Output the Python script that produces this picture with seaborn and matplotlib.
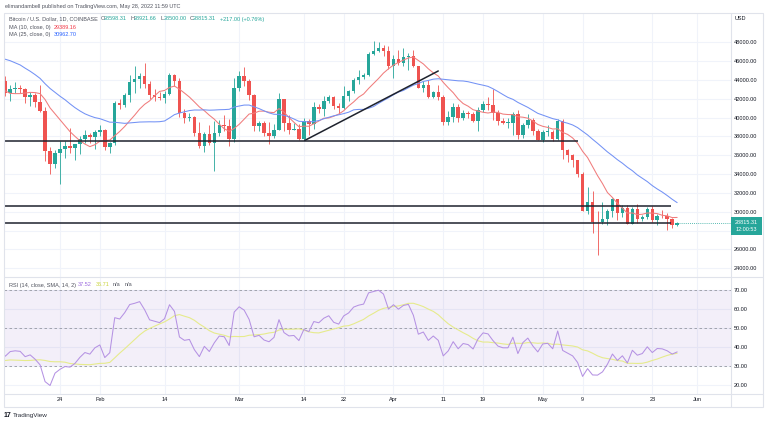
import numpy as np
import pandas as pd
import matplotlib
matplotlib.use("Agg")
import matplotlib.pyplot as plt
import matplotlib.dates as mdates
from matplotlib.patches import Rectangle
from matplotlib.lines import Line2D
import seaborn as sns

sns.set_theme(style="white")
plt.rcParams["font.family"] = ["Liberation Sans", "DejaVu Sans"]

# closes before the visible window, used for the MA / RSI warm-up (2021-11-15 .. 2022-01-12)
hist_start = "2021-11-15"
hist_close = [63590, 60110, 60370, 56940, 58120, 59750, 58730, 56310, 57570, 57180,
              58960, 53750, 54740, 57290, 57830, 56990,
              57230, 56510, 53730, 49250, 49400, 50580, 50620, 50480, 47640, 47170,
              49390, 50110, 46720, 48380, 48870, 47630, 46200, 46850, 46690, 46910,
              48900, 48620, 50820, 50430, 50800, 50700, 50640, 47590, 46470, 47150, 46210,
              47740, 47310, 46450, 45830, 43430, 43080, 41560, 41730, 41870, 41830, 42740, 43920]

# daily candles 2022-01-13 .. 2022-05-28
start = "2022-01-13"
opens = [43920, 42590, 43100, 43180, 43090, 42220, 42380, 41680, 40690, 36470, 35050, 36280, 36680, 36960, 36820,
         37160, 37720, 38170, 37920, 38480, 38740, 36900, 37330, 41570, 41400, 42410, 43850, 44090, 44390, 43550,
         42400, 42230, 42080, 42560, 44580, 43900, 40550, 40000, 40110, 38390, 37040, 38250, 37270, 38340, 39230,
         39120, 37700, 43190, 44420, 43920, 42460, 39140, 39400, 38420, 38060, 38740, 41940, 39440, 38730, 38810,
         37780, 39670, 39280, 41120, 40920, 41760, 42220, 41260, 41000, 42360, 42890, 43960, 44320, 44520, 46820,
         47130, 47430, 47060, 45530, 46280, 45810, 46410, 46580, 45500, 43170, 43440, 42250, 42760, 42160, 39530,
         40080, 41150, 39940, 40550, 40380, 39680, 40800, 41500, 41370, 40480, 39700, 39450, 39450, 40430, 38110,
         39240, 39740, 38600, 37640, 38470, 38530, 37750, 39690, 36550, 36010, 35470, 34060, 30090, 31010, 28940,
         28880, 29240, 30100, 31310, 29830, 30390, 28680, 30290, 29180, 29390, 30240, 29090, 29590, 29520, 29180,
         28598.31]
highs = [44440, 43460, 43800, 43480, 43180, 42700, 42580, 43500, 41100, 36840, 36530, 37550, 37550, 38920, 37240,
         38000, 38720, 38360, 38740, 39270, 38850, 37390, 41750, 41940, 42660, 44500, 45500, 44800, 45850, 43920,
         43000, 42750, 42860, 44770, 44600, 44200, 40970, 40460, 40140, 39500, 38440, 39260, 39700, 39710, 40300,
         39870, 44220, 44970, 45400, 44100, 42520, 39640, 39690, 39560, 39360, 42600, 41970, 40260, 39480, 39300,
         39920, 39860, 41720, 41480, 42300, 42400, 42300, 41540, 43350, 42900, 44210, 45090, 44790, 46950, 48190,
         48100, 47700, 47600, 46700, 47200, 47440, 46880, 47200, 45500, 43900, 43960, 42800, 43430, 42420, 40700,
         41560, 41500, 40870, 40710, 40590, 41100, 41760, 42200, 43100, 40800, 39980, 39940, 40620, 40800, 39460,
         40380, 39920, 38800, 38680, 39170, 38650, 39900, 39850, 36670, 36140, 35500, 34250, 32660, 32180, 30100,
         31000, 30330, 31450, 31320, 30760, 30670, 30550, 30770, 29620, 30470, 30650, 29800, 30190, 29870, 29380,
         28921.66]
lows = [42310, 41730, 42650, 42590, 41540, 41260, 41140, 40570, 35440, 34010, 34600, 32930, 35700, 36240, 35510,
        36150, 37310, 37360, 36630, 38010, 36610, 36250, 37060, 40970, 41140, 41660, 42670, 43150, 43200, 42000,
        41750, 41880, 41580, 42440, 43330, 40080, 39460, 39640, 38000, 36800, 36360, 37070, 34320, 38030, 38570,
        37030, 37460, 42850, 43360, 41840, 38630, 38590, 38100, 37160, 37860, 38660, 38540, 38240, 38660, 37580,
        37580, 38120, 38850, 40520, 40150, 41520, 40930, 40500, 40890, 41750, 42580, 43590, 44100, 44420, 46670,
        46940, 46540, 45200, 44240, 45630, 45520, 45120, 45350, 43130, 42730, 42120, 42130, 41870, 39200, 39250,
        39570, 39550, 39770, 39990, 39540, 38540, 40580, 40830, 39750, 39180, 39300, 38930, 38200, 37700, 37880,
        38900, 38180, 37580, 37390, 38050, 37520, 37670, 35580, 35270, 34780, 33720, 30070, 29750, 27700, 25400,
        28710, 28630, 29480, 29100, 29460, 28670, 28670, 28750, 28960, 29250, 28880, 28630, 29320, 28030, 28250,
        28500.00]
closes = [42590, 43100, 43180, 43090, 42220, 42380, 41680, 40690, 36470, 35050, 36280, 36680, 36960, 36820, 37160,
          37720, 38170, 37920, 38480, 38740, 36900, 37330, 41570, 41400, 42410, 43850, 44090, 44390, 43550, 42400,
          42230, 42080, 42560, 44580, 43900, 40550, 40000, 40110, 38390, 37040, 38250, 37270, 38340, 39230, 39120,
          37700, 43190, 44420, 43920, 42460, 39140, 39400, 38420, 38060, 38740, 41940, 39440, 38730, 38810, 37780,
          39670, 39280, 41120, 40920, 41760, 42220, 41260, 41000, 42360, 42890, 43960, 44320, 44520, 46820, 47130,
          47430, 47060, 45530, 46280, 45810, 46410, 46580, 45500, 43170, 43440, 42250, 42760, 42160, 39530, 40080,
          41150, 39940, 40550, 40380, 39680, 40800, 41500, 41370, 40480, 39700, 39450, 39450, 40430, 38110, 39240,
          39740, 38600, 37640, 38470, 38530, 37750, 39690, 36550, 36010, 35470, 34060, 30090, 31010, 28940, 28880,
          29240, 30100, 31310, 29830, 30390, 28680, 30290, 29180, 29390, 30240, 29090, 29590, 29520, 29180, 28598.31,
          28815.31]

# drawn trend lines: (date, price) pairs
support_lines = [("2022-01-01 00:00", 37560, "2022-05-08 00:00", 37560),
                 ("2022-01-01 00:00", 30600, "2022-05-26 18:00", 30600),
                 ("2022-01-01 00:00", 28770, "2022-05-26 18:00", 28770)]
trend_line = ("2022-03-14 04:00", 37580, "2022-04-10 00:00", 44970)

price_ticks = list(range(24000, 48001, 2000))
rsi_ticks = [20, 30, 40, 50, 60, 70]
date_ticks = ["2022-01-24", "2022-02-01", "2022-02-14", "2022-03-01", "2022-03-14", "2022-03-22",
              "2022-04-01", "2022-04-11", "2022-04-19", "2022-05-01", "2022-05-09", "2022-05-23", "2022-06-01"]
date_labels = ["24", "Feb", "14", "Mar", "14", "22", "Apr", "11", "19", "May", "9", "23", "Jun"]

UP, DN = "#26A69A", "#EF5350"
TXT = "#131722"
GREY = "#50535E"
GRID = "#F0F3FA"
BORDER = "#E0E3EB"
FS = 3.95

# ---- indicators
idx_all = pd.date_range(hist_start, periods=len(hist_close) + len(closes), freq="D")
close_all = pd.Series(hist_close + closes, index=idx_all, dtype=float)
ma10 = close_all.rolling(10).mean()
ma25 = close_all.rolling(25).mean()
delta = close_all.diff()
gain = delta.clip(lower=0).ewm(alpha=1 / 14, adjust=False).mean()
loss = (-delta.clip(upper=0)).ewm(alpha=1 / 14, adjust=False).mean()
rsi = 100 - 100 / (1 + gain / loss)
rsi_ma = rsi.rolling(14).mean()

days = pd.date_range(start, periods=len(closes), freq="D")
xd = mdates.date2num(days)
o, h, l, c = map(np.asarray, (opens, highs, lows, closes))


def dn(s):
    return mdates.date2num(pd.Timestamp(s))


# ---- layout in pixels
W, H = 768, 424
fig = plt.figure(figsize=(W / 100, H / 100), dpi=100)


def fx(px):
    return px / W


def fy(py):
    return 1 - py / H


L, R = 4, 730.5
ax = fig.add_axes([fx(L), fy(277), (R - L) / W, (277 - 13) / H])
ax2 = fig.add_axes([fx(L), fy(394), (R - L) / W, (394 - 277) / H], sharex=ax)

base = dn("2022-01-24")
ppd = 4.977
ax.set_ylim(30000 - (277 - 211.7) * 106.38, 30000 + (211.7 - 13) * 106.38)
ax2.set_ylim(30 - (394 - 366) / 1.893, 70 + (290.3 - 277) / 1.893)

tick_num = [dn(t) for t in date_ticks]
for a in (ax, ax2):
    for s in a.spines.values():
        s.set_visible(False)
    a.grid(True, color=GRID, lw=0.8)
    a.set_axisbelow(True)

ax.set_yticks(price_ticks)
ax.set_yticklabels(["" if p == 28000 else f"{p:.2f}" for p in price_ticks])
ax.tick_params(axis="y", left=False, labelleft=False, right=False, labelright=True, length=0,
               pad=2.6, labelsize=FS, labelcolor=TXT)
ax.tick_params(axis="x", bottom=False, labelbottom=False, length=0)

ax2.set_yticks(rsi_ticks)
ax2.set_yticklabels([f"{v:.2f}" for v in rsi_ticks])
ax2.tick_params(axis="y", left=False, labelleft=False, right=False, labelright=True, length=0,
                pad=2.6, labelsize=FS, labelcolor=TXT)

# ---- candles
col = np.where(c >= o, UP, DN)
ax.vlines(xd, l, h, colors=col, lw=0.6, zorder=2)
body = np.maximum(np.abs(c - o), 70)
ax.bar(xd, body, bottom=np.minimum(o, c), width=0.7, color=col, lw=0, zorder=3)

# ---- moving averages
win = (close_all.index >= "2022-01-05")
xa = mdates.date2num(close_all.index[win])
sns.lineplot(x=xa, y=ma10[win].values, ax=ax, color="#F07C7C", lw=0.75, zorder=4)
sns.lineplot(x=xa, y=ma25[win].values, ax=ax, color="#7392F5", lw=0.75, zorder=4)

# ---- drawn lines
for d0, p0, d1, p1 in support_lines:
    ax.plot([dn(d0), dn(d1)], [p0, p1], color="#1E222D", lw=1.1, zorder=5, solid_capstyle="butt")
d0, p0, d1, p1 = trend_line
ax.plot([dn(d0), dn(d1)], [p0, p1], color="#1E222D", lw=1.1, zorder=5)

# ---- RSI pane
ax2.axhspan(30, 70, color="#7E57C2", alpha=0.09, lw=0, zorder=1)
for lvl in (70, 50, 30):
    ax2.axhline(lvl, color="#9598A1", lw=0.6, ls=(0, (3, 3)), zorder=2)
sns.lineplot(x=xa, y=rsi[win].values, ax=ax2, color="#B592E3", lw=0.75, zorder=4)
sns.lineplot(x=xa, y=rsi_ma[win].values, ax=ax2, color="#E6EB8C", lw=0.8, zorder=3)
ax.set_xlabel("")
ax2.set_xlabel("")

xmin, xmax = base - (60 - L) / ppd, base + (R - 60) / ppd
ax.set_xlim(xmin, xmax)
# last price dotted line
ax.plot([xd[-1], xmax], [c[-1], c[-1]], color=UP, lw=0.6, ls=(0, (1, 1.5)), zorder=2)

ax2.set_xticks(tick_num)
ax2.set_xticklabels(date_labels)
ax2.tick_params(axis="x", bottom=False, labelbottom=True, length=0, pad=2.2, labelsize=FS, labelcolor=TXT)
ax.tick_params(axis="x", labelbottom=False)

# ---- frame lines
fig.add_artist(Rectangle((fx(4), fy(407)), (763 - 4) / W, (407 - 13) / H, transform=fig.transFigure,
                         fill=False, edgecolor=BORDER, lw=0.8, zorder=6))
fig.add_artist(Line2D([fx(R), fx(R)], [fy(13), fy(407)], color=BORDER, lw=0.8, zorder=6))
fig.add_artist(Line2D([fx(4), fx(763)], [fy(277), fy(277)], color=BORDER, lw=0.8, zorder=6))
fig.add_artist(Line2D([fx(4), fx(763)], [fy(394), fy(394)], color=BORDER, lw=0.8, zorder=6))


def put(px, py, s, color=TXT, size=FS, **kw):
    fig.text(fx(px), fy(py), s, color=color, fontsize=size, va="center", ha=kw.pop("ha", "left"), **kw)


put(5, 6.5, "elimandambell published on TradingView.com, May 28, 2022 11:59 UTC", color=GREY)
put(9, 19, "Bitcoin / U.S. Dollar, 1D, COINBASE", color=GREY)
for px, letter, val in [(100.5, "O", "28598.31"), (130.5, "H", "28921.66"),
                        (160.5, "L", "28500.00"), (189.5, "C", "28815.31")]:
    put(px, 19, letter, color=GREY)
    put(px + 3.4, 19, val, color=UP)
put(219.5, 19, "+217.00 (+0.76%)", color=UP)
put(9, 27.5, "MA (10, close, 0)", color=GREY)
put(54, 27.5, "29389.16", color="#F23645")
put(9, 34.5, "MA (25, close, 0)", color=GREY)
put(54, 34.5, "30962.70", color="#2962FF")
put(9, 285, "RSI (14, close, SMA, 14, 2)", color=GREY)
put(78, 285, "37.52", color="#9C6ADE")
put(95.5, 285, "36.71", color="#C9D33A")
put(113, 285, "n/a", color=GREY)
put(125, 285, "n/a", color=GREY)
put(735, 18.5, "USD", color=TXT)

# last price label
fig.add_artist(Rectangle((fx(730.5), fy(235)), (762 - 730.5) / W, (235 - 217) / H, transform=fig.transFigure,
                         facecolor=UP, edgecolor="none", zorder=7))
fig.text(fx(746), fy(222.8), "28815.31", color="white", fontsize=FS, ha="center", va="center", zorder=8)
fig.text(fx(746), fy(229.8), "12:00:53", color="white", fontsize=FS, ha="center", va="center", zorder=8)

# logo
put(4, 415.5, "17", color=TXT, size=5.0, fontweight="bold")
put(12.5, 415.5, "TradingView", color="#2A2E39", size=4.6)

fig.savefig("out.png", dpi=100, facecolor="white")
